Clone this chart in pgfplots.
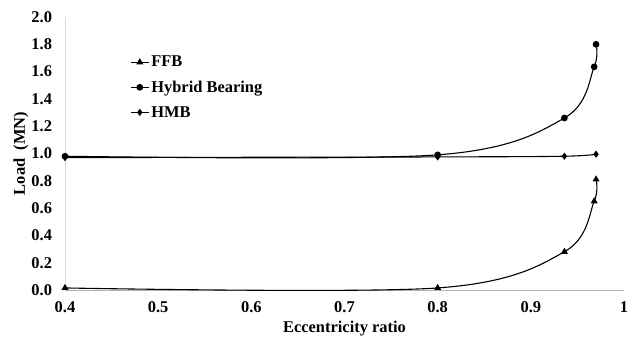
\documentclass[border=0pt]{standalone}
\usepackage{pgfplots}
\pgfplotsset{compat=1.18}
\usepackage{fontspec}
\setmainfont{Liberation Serif}
\begin{document}
\begin{tikzpicture}[x=1bp,y=1bp]
\useasboundingbox (-65bp,-47bp) rectangle (566bp,290bp);
\begin{axis}[
  at={(0,0)}, anchor=origin,
  scale only axis, width=559bp, height=273bp,
  xmin=0.4, xmax=1, ymin=0, ymax=2,
  xtick={0.4,0.5,0.6,0.7,0.8,0.9,1},
  xticklabels={0.4,0.5,0.6,0.7,0.8,0.9,1},
  ytick={0,0.2,...,2.0},
  /pgf/number format/assume math mode=true,
  tick label style={font=\bfseries\fontsize{16.5}{18}\selectfont},
  yticklabel style={xshift=-9.5bp, /pgf/number format/.cd,fixed,fixed zerofill,precision=1},
  xticklabel style={anchor=center, yshift=-17bp},
  major tick length=0pt,
  axis x line*=bottom, axis y line*=left,
  x axis line style={draw=black!30, -},
  y axis line style={draw=black!15, -},
  xlabel={Eccentricity ratio}, ylabel={Load\ \ (MN)},
  every axis x label/.style={at={(rel axis cs:0.5,0)}, anchor=center, yshift=-39bp, font=\bfseries\fontsize{16.5}{18}\selectfont},
  every axis y label/.style={at={(rel axis cs:0,0.5)}, anchor=center, xshift=-44bp, rotate=90, font=\bfseries\fontsize{16.5}{18}\selectfont},
  legend style={draw=none, fill=none, at={(0.111,0.872)}, anchor=north west,
    font=\bfseries\fontsize{16.5}{18}\selectfont, row sep=8.5bp,
    /tikz/every even column/.append style={column sep=0bp}},
  legend image code/.code={\draw[#1] (0bp,0bp) -- (9bp,0bp) plot coordinates {(9bp,0bp)} -- (18bp,0bp);},
  legend cell align=left,
  every axis plot/.append style={black, line width=1.1pt, smooth, tension=0.55},
]
\addplot[mark=triangle*, mark size=3pt] coordinates {(0.4,0.015) (0.8,0.015) (0.936,0.28) (0.968,0.65) (0.97,0.81)};
\addlegendentry{FFB}
\addplot[mark=*, mark size=2.8pt] coordinates {(0.4,0.98) (0.8,0.99) (0.936,1.26) (0.968,1.635) (0.97,1.80)};
\addlegendentry{Hybrid Bearing}
\addplot[mark=diamond*, mark size=2.7pt] coordinates {(0.4,0.97) (0.8,0.975) (0.936,0.98) (0.97,0.995)};
\addlegendentry{HMB}
\end{axis}
\end{tikzpicture}
\end{document}
